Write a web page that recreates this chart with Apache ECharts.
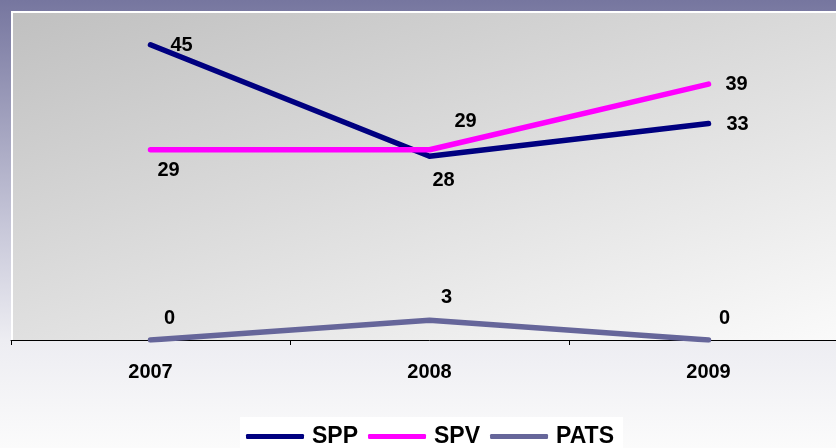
<!DOCTYPE html>
<html>
<head>
<meta charset="utf-8">
<script src="https://cdn.jsdelivr.net/npm/echarts@6/dist/echarts.min.js"></script>
<style>html,body{margin:0;padding:0;overflow:hidden;width:836px;height:448px;}#c{width:848px;height:448px;}</style>
</head>
<body>
<div id="c"></div>
<script>
var categories = ['2007', '2008', '2009'];
var seriesNames = ['SPP', 'SPV', 'PATS'];
var sppValues = [45, 28, 33];
var spvValues = [29, 29, 39];
var patsValues = [0, 3, 0];

// label offsets (presentation only)
var sppOffsets = [[31, 1], [14, 24], [29, 1]];
var spvOffsets = [[18, 21], [36, -28], [28, 0]];
var patsOffsets = [[19, -22], [17, -23], [16, -22]];

function mkData(vals, offs) {
  return vals.map(function (v, i) {
    return { value: v, label: { offset: offs[i] } };
  });
}

var labelStyle = {
  show: true, position: 'inside', color: '#000',
  fontFamily: 'Liberation Sans, Arial, sans-serif', fontWeight: 'bold', fontSize: 20
};

function mkSeries(name, vals, offs, color, z) {
  return {
    name: name, type: 'line', data: mkData(vals, offs),
    symbol: 'circle', symbolSize: 3, z: z,
    lineStyle: { color: color, width: 5.5, cap: 'round', join: 'round' },
    itemStyle: { color: color },
    label: labelStyle,
    emphasis: { disabled: true },
    animation: false
  };
}

var chart = echarts.init(document.getElementById('c'));
chart.setOption({
  animation: false,
  backgroundColor: new echarts.graphic.LinearGradient(0, 0, 0, 1, [
    { offset: 0, color: '#76769f' },
    { offset: 0.5, color: '#c6c6d8' },
    { offset: 0.76, color: '#ededf2' },
    { offset: 1, color: '#fbfbfb' }
  ]),
  grid: {
    left: 11, top: 12, right: 0, height: 328,
    show: true, borderWidth: 0,
    backgroundColor: new echarts.graphic.LinearGradient(11, 12, 185, 550, [
      { offset: 0, color: '#c0c0c0' },
      { offset: 1, color: '#fafafa' }
    ], true)
  },
  graphic: [
    { type: 'rect', shape: { x: 11, y: 11, width: 837, height: 2 }, style: { fill: '#ffffff' }, z: 1 },
    { type: 'rect', shape: { x: 11, y: 11, width: 2, height: 329 }, style: { fill: '#ffffff' }, z: 1 }
  ],
  xAxis: {
    type: 'category', data: categories, boundaryGap: true,
    axisLine: { lineStyle: { color: '#000', width: 1 } },
    axisTick: { show: true, length: 5, interval: 0, lineStyle: { color: '#000' } },
    axisLabel: { color: '#000', fontFamily: 'Liberation Sans, Arial, sans-serif', fontWeight: 'bold', fontSize: 20, margin: 22 },
    splitLine: { show: false }
  },
  yAxis: { type: 'value', min: 0, max: 50, show: false, splitLine: { show: false } },
  legend: {
    data: seriesNames, left: 240, top: 417,
    backgroundColor: '#ffffff', padding: [8, 9, 12, 6],
    icon: 'roundRect', itemWidth: 58, itemHeight: 5, itemGap: 10,
    textStyle: { color: '#000', fontFamily: 'Liberation Sans, Arial, sans-serif', fontWeight: 'bold', fontSize: 23, padding: [0, 0, 0, 3] }
  },
  series: [
    mkSeries('SPP', sppValues, sppOffsets, '#000080', 3),
    mkSeries('SPV', spvValues, spvOffsets, '#ff00ff', 4),
    mkSeries('PATS', patsValues, patsOffsets, '#66669a', 2)
  ]
});
</script>
</body>
</html>
